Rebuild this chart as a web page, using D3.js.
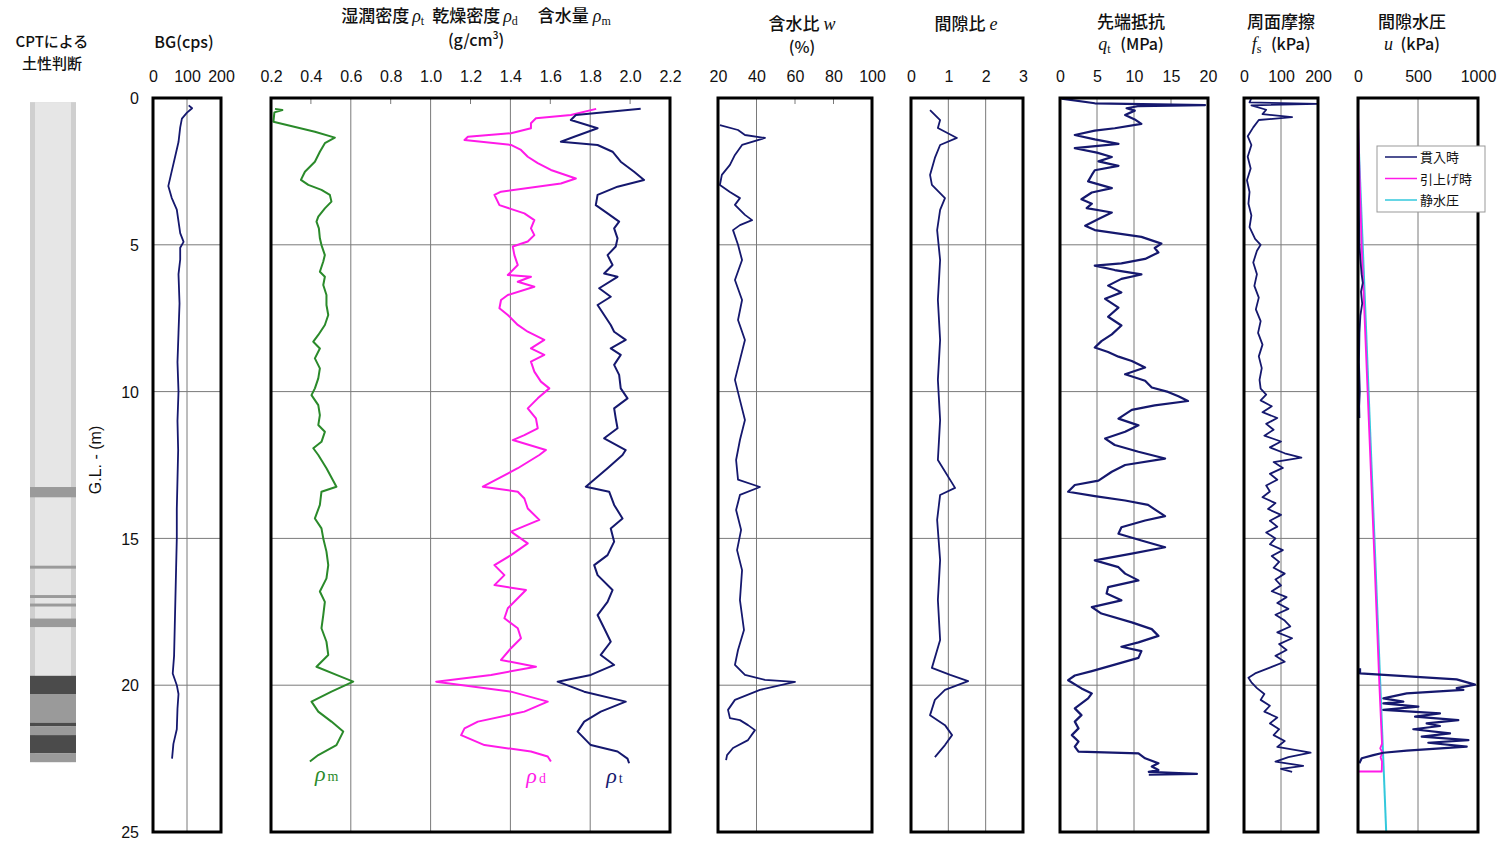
<!DOCTYPE html>
<html>
<head>
<meta charset="utf-8">
<script src="https://cdn.jsdelivr.net/npm/d3@7"></script>
<style>
  body { margin: 0; background: #fff; }
  svg { display: block; }
  .tick text { font-family: "Liberation Sans", Arial, sans-serif; }
</style>
</head>
<body>
<svg id="chart" width="1499" height="842"></svg>
<script>
// ---- depth profile data: [depth (m), value] ----
const bgCps = [[0.25,105],[0.35,115],[0.5,100],[0.7,85],[1.0,80],[1.5,75],[2.0,65],[2.5,55],[3.0,45],[3.4,55],[3.8,70],[4.2,75],[4.6,80],[4.9,90],[5.1,80],[5.5,80],[6.0,75],[7.0,78],[8.0,75],[9.0,72],[10.0,75],[11.0,72],[12.0,74],[13.0,72],[14.0,70],[15.0,70],[16.0,68],[17.0,66],[18.0,64],[19.0,62],[19.6,58],[20.0,70],[20.3,75],[20.8,72],[21.5,70],[22.0,60],[22.5,56]];

const rhoM = [[0.37,0.22],[0.41,0.257],[0.49,0.217],[0.81,0.212],[1.15,0.42],[1.35,0.52],[1.54,0.47],[1.83,0.445],[2.17,0.42],[2.51,0.37],[2.79,0.35],[2.96,0.387],[3.13,0.453],[3.3,0.495],[3.53,0.503],[3.76,0.47],[4.04,0.437],[4.21,0.428],[4.44,0.44],[4.78,0.445],[5.01,0.453],[5.35,0.47],[5.57,0.462],[5.92,0.445],[6.09,0.47],[6.37,0.462],[6.71,0.478],[7.05,0.478],[7.39,0.487],[7.73,0.47],[8.07,0.437],[8.3,0.412],[8.53,0.445],[8.87,0.42],[9.21,0.445],[9.55,0.437],[9.89,0.42],[10.12,0.403],[10.46,0.437],[10.8,0.445],[11.14,0.437],[11.37,0.47],[11.71,0.453],[11.93,0.412],[12.16,0.437],[12.61,0.478],[13.24,0.528],[13.41,0.453],[13.86,0.445],[14.32,0.42],[14.66,0.453],[15.0,0.462],[15.45,0.478],[15.91,0.487],[16.36,0.478],[16.81,0.445],[17.16,0.47],[17.61,0.462],[18.06,0.453],[18.52,0.478],[18.97,0.487],[19.37,0.428],[19.65,0.528],[19.88,0.612],[20.22,0.503],[20.56,0.403],[20.9,0.437],[21.24,0.503],[21.58,0.562],[22.04,0.528],[22.38,0.437],[22.6,0.395]];

const rhoD = [[0.37,1.83],[0.58,1.703],[0.69,1.528],[0.86,1.503],[1.03,1.503],[1.2,1.403],[1.32,1.187],[1.43,1.17],[1.6,1.403],[1.77,1.453],[2.0,1.487],[2.22,1.537],[2.45,1.603],[2.74,1.728],[2.91,1.653],[3.19,1.353],[3.3,1.32],[3.65,1.345],[3.93,1.47],[4.16,1.52],[4.44,1.503],[4.67,1.52],[4.89,1.487],[5.06,1.412],[5.35,1.42],[5.69,1.437],[6.03,1.387],[6.09,1.503],[6.26,1.437],[6.43,1.52],[6.71,1.387],[6.88,1.353],[7.16,1.345],[7.39,1.387],[7.73,1.437],[7.96,1.487],[8.24,1.57],[8.53,1.503],[8.75,1.57],[8.98,1.503],[9.32,1.52],[9.66,1.553],[9.89,1.595],[10.23,1.537],[10.57,1.487],[10.91,1.528],[11.25,1.537],[11.48,1.47],[11.65,1.412],[11.99,1.578],[12.16,1.545],[12.61,1.437],[13.24,1.262],[13.41,1.437],[13.64,1.47],[13.98,1.487],[14.37,1.545],[14.77,1.403],[15.17,1.487],[15.57,1.403],[15.91,1.32],[16.25,1.37],[16.59,1.32],[16.76,1.478],[17.04,1.437],[17.38,1.387],[17.72,1.37],[18.06,1.437],[18.4,1.453],[18.74,1.403],[19.14,1.353],[19.37,1.528],[19.65,1.303],[19.88,1.028],[20.22,1.403],[20.56,1.587],[20.9,1.47],[21.24,1.237],[21.47,1.17],[21.7,1.153],[22.04,1.27],[22.26,1.503],[22.43,1.587],[22.6,1.603]];

const rhoT = [[0.37,2.053],[0.58,1.728],[0.75,1.703],[1.03,1.837],[1.32,1.72],[1.49,1.653],[1.6,1.837],[1.83,1.912],[2.17,1.953],[2.51,2.02],[2.79,2.07],[3.02,1.937],[3.3,1.837],[3.65,1.828],[3.93,1.887],[4.21,1.945],[4.44,1.92],[4.78,1.937],[5.06,1.928],[5.35,1.887],[5.69,1.912],[5.98,1.87],[6.09,1.937],[6.48,1.845],[6.77,1.903],[7.05,1.837],[7.39,1.87],[7.73,1.903],[7.96,1.92],[8.24,1.978],[8.53,1.903],[8.75,1.953],[9.09,1.92],[9.43,1.945],[9.89,1.953],[10.23,1.987],[10.57,1.92],[10.91,1.928],[11.25,1.937],[11.59,1.87],[11.99,1.978],[12.16,1.962],[12.61,1.887],[13.24,1.778],[13.41,1.895],[13.86,1.92],[14.32,1.962],[14.66,1.903],[15.11,1.92],[15.57,1.887],[15.91,1.82],[16.25,1.837],[16.76,1.912],[17.16,1.887],[17.61,1.837],[18.06,1.87],[18.52,1.903],[18.97,1.853],[19.31,1.92],[19.65,1.803],[19.88,1.637],[20.22,1.77],[20.56,1.978],[20.9,1.853],[21.24,1.77],[21.58,1.737],[22.04,1.803],[22.26,1.937],[22.5,1.987],[22.66,1.995]];

const waterContent = [[0.92,21],[1.09,30.4],[1.26,34],[1.36,44.4],[1.6,32.5],[1.94,28.8],[2.28,26.2],[2.62,22],[2.96,21],[3.2,26.2],[3.41,31.4],[3.64,28.8],[3.98,34],[4.16,37.7],[4.33,31.4],[4.5,27.8],[5.0,30.4],[5.52,32.5],[6.2,28.8],[6.88,32.5],[7.56,30.4],[8.24,34],[8.92,31.4],[9.6,28.8],[10.29,31.4],[10.97,34],[11.65,31.4],[12.33,29.4],[13.0,30.4],[13.25,41.8],[13.52,31.4],[14.03,29.4],[14.71,32],[15.4,29.9],[16.08,32.5],[17.1,31.4],[18.12,33.5],[18.8,30.4],[19.31,28.8],[19.65,34],[19.82,44.4],[19.89,60],[20.16,41.8],[20.5,28.8],[20.84,25.2],[21.12,26.2],[21.19,31.4],[21.36,35.6],[21.53,39.2],[21.87,35.6],[22.14,27.8],[22.38,24.7],[22.55,24.2]];

const voidRatio = [[0.41,0.51],[0.75,0.78],[1.02,0.72],[1.36,1.23],[1.6,0.78],[2.04,0.64],[2.62,0.51],[2.96,0.56],[3.41,0.91],[3.81,0.78],[4.5,0.7],[5.52,0.78],[6.88,0.72],[8.24,0.78],[9.6,0.72],[10.97,0.78],[12.33,0.72],[13.28,1.18],[13.52,0.78],[14.37,0.7],[15.74,0.78],[17.1,0.72],[18.46,0.78],[19.41,0.56],[19.65,1.05],[19.86,1.53],[20.16,0.91],[20.5,0.64],[21.02,0.51],[21.36,0.91],[21.7,1.1],[22.04,0.91],[22.45,0.64]];

const qtMPa = [[0.02,0.2],[0.18,4.7],[0.24,19.6],[0.28,10.5],[0.35,9.0],[0.43,10.1],[0.58,8.8],[0.73,10.1],[0.88,11.0],[1.03,7.4],[1.11,4.7],[1.26,2.0],[1.41,4.7],[1.56,7.9],[1.71,2.0],[1.86,5.0],[2.01,7.0],[2.16,5.2],[2.31,7.9],[2.46,4.7],[2.62,4.3],[2.84,3.8],[3.07,7.0],[3.22,4.3],[3.45,2.9],[3.6,4.3],[3.75,3.6],[3.9,7.0],[4.12,5.2],[4.35,3.4],[4.5,4.7],[4.73,11.0],[4.96,13.7],[5.11,12.8],[5.26,13.3],[5.48,11.5],[5.63,8.3],[5.71,4.7],[5.86,7.4],[6.01,11.0],[6.16,8.3],[6.39,6.5],[6.62,8.3],[6.84,6.1],[7.14,7.9],[7.45,6.5],[7.75,8.3],[8.05,7.0],[8.28,5.6],[8.5,4.7],[8.65,6.5],[8.81,7.9],[8.96,9.7],[9.18,11.5],[9.41,8.8],[9.63,11.5],[9.86,12.4],[10.01,14.6],[10.16,16.0],[10.32,17.3],[10.47,12.8],[10.62,9.7],[10.92,7.9],[11.15,10.6],[11.37,8.8],[11.6,6.1],[11.82,7.4],[12.05,10.6],[12.28,14.2],[12.5,8.8],[12.73,7.0],[13.03,5.2],[13.18,2.0],[13.41,1.1],[13.56,4.7],[13.71,8.8],[13.86,11.9],[14.01,12.8],[14.24,14.2],[14.39,11.5],[14.62,8.3],[14.84,7.9],[15.07,11.0],[15.3,14.2],[15.52,9.7],[15.75,4.7],[15.98,7.9],[16.2,8.8],[16.43,10.6],[16.66,6.5],[16.88,6.3],[17.11,8.3],[17.34,4.3],[17.56,5.6],[17.86,9.7],[18.09,12.4],[18.32,13.3],[18.54,10.6],[18.69,8.3],[18.84,11.0],[19.07,10.6],[19.3,7.4],[19.52,4.3],[19.67,2.0],[19.83,1.1],[20.11,2.9],[20.28,4.3],[20.45,3.8],[20.62,2.9],[20.79,2.0],[21.02,2.9],[21.24,2.0],[21.47,2.5],[21.7,1.6],[21.92,2.5],[22.09,2.0],[22.26,2.5],[22.32,10.6],[22.49,11.5],[22.66,13.3],[22.77,12.4],[22.89,13.3],[22.95,12.0],[23.02,18.5],[23.05,12.0]];

const fsKPa = [[0.0,20],[0.15,15],[0.2,200],[0.25,20],[0.4,60],[0.55,50],[0.65,130],[0.75,40],[1.0,25],[1.3,10],[1.6,20],[2.0,10],[2.4,18],[2.8,8],[3.2,15],[3.6,12],[4.0,20],[4.4,15],[4.8,30],[5.0,45],[5.2,35],[5.6,25],[6.0,35],[6.4,28],[6.8,40],[7.2,32],[7.6,45],[8.0,38],[8.4,50],[8.8,40],[9.2,48],[9.6,42],[9.9,45],[10.1,60],[10.3,45],[10.5,75],[10.7,50],[10.9,90],[11.1,60],[11.3,80],[11.5,55],[11.7,100],[11.9,70],[12.1,110],[12.25,155],[12.4,80],[12.6,105],[12.8,70],[13.0,90],[13.2,60],[13.4,70],[13.6,50],[13.8,85],[14.0,65],[14.2,100],[14.4,70],[14.6,90],[14.8,60],[15.0,85],[15.2,70],[15.4,105],[15.6,75],[15.8,95],[16.0,80],[16.2,110],[16.4,85],[16.6,100],[16.8,75],[17.0,115],[17.2,90],[17.4,120],[17.6,85],[17.8,110],[18.0,125],[18.2,90],[18.4,130],[18.6,95],[18.8,115],[19.0,85],[19.2,110],[19.4,70],[19.6,30],[19.75,12],[19.9,20],[20.1,35],[20.3,55],[20.5,45],[20.7,70],[20.9,55],[21.1,90],[21.3,70],[21.5,95],[21.7,80],[21.9,110],[22.1,90],[22.3,180],[22.45,120],[22.6,85],[22.75,160],[22.85,100],[22.95,130]];

// pore pressure while pushing: two recorded sections
const uPushUpper = [[0.0,2],[1.0,0],[2.0,3],[3.0,5],[4.0,8],[5.0,12],[5.5,20],[6.0,30],[6.3,40],[6.6,25],[7.0,35],[7.4,20],[8.0,12],[9.0,8],[10.0,15],[10.5,10],[10.9,12]];
const uPushLower = [[19.42,17],[19.6,17],[19.8,822],[19.98,975],[20.1,822],[20.16,878],[20.28,406],[20.45,211],[20.56,378],[20.62,211],[20.73,503],[20.84,211],[20.96,683],[21.07,475],[21.19,836],[21.3,572],[21.39,683],[21.5,461],[21.64,767],[21.75,531],[21.87,920],[21.96,586],[22.09,906],[22.23,406],[22.3,211],[22.38,128],[22.49,31],[22.66,11]];
const uPull = [[0.3,0],[1.5,5],[5,30],[10,80],[15,130],[20,178],[22.0,200],[22.15,185],[22.3,205],[22.45,188],[22.6,200],[22.94,198],[22.94,0]];
const uHydro = [[1.0,0],[25,235]];

// soil classification column (top, bottom, class)
const cptLayers = [[13.25,13.6,"mid"],[15.93,16.03,"mid"],[16.93,17.03,"mid"],[17.22,17.32,"mid"],[17.73,18.02,"mid"],[19.68,20.3,"dark"],[20.3,21.28,"mid"],[21.28,21.4,"dark"],[21.4,21.7,"mid"],[21.7,22.32,"dark"],[22.32,22.62,"mid"]];
const cptRange = [0.14, 22.62];

const depthTicks = [0,5,10,15,20,25];

// ---- layout ----
const svg = d3.select("#chart");
const y = d3.scaleLinear().domain([0,25]).range([98,832]);
const NAVY = "#15186e", GREEN = "#2a8a2a", MAGENTA = "#ff1ae8", CYAN = "#33c8dc";
const cjk = '"Noto Sans CJK JP", "Noto Sans", sans-serif';
const serif = '"Liberation Serif", "DejaVu Serif", serif';

const panels = {
  bg:  {x0:153,  x1:221,  domain:[0,200],  ticks:[0,100,200], grid:[100], minor:[], fmt:d3.format("d")},
  rho: {x0:271,  x1:670,  domain:[0.2,2.2], ticks:d3.range(0.2,2.21,0.2), grid:[0.6,1.0,1.4,1.8], minor:[0.4,0.8,1.2,1.6,2.0], fmt:d3.format(".1f")},
  w:   {x0:718,  x1:872,  domain:[20,100], ticks:[20,40,60,80,100], grid:[40], minor:[60,80], fmt:d3.format("d")},
  e:   {x0:911,  x1:1023, domain:[0,3],    ticks:[0,1,2,3], grid:[1,2], minor:[], fmt:d3.format("d")},
  qt:  {x0:1060, x1:1208, domain:[0,20],   ticks:[0,5,10,15,20], grid:[5,10], minor:[15], fmt:d3.format("d")},
  fs:  {x0:1244, x1:1318, domain:[0,200],  ticks:[0,100,200], grid:[100], minor:[], fmt:d3.format("d")},
  u:   {x0:1358, x1:1478, domain:[0,1000], ticks:[0,500,1000], grid:[500], minor:[], fmt:d3.format("d")}
};
Object.values(panels).forEach(p => { p.x = d3.scaleLinear().domain(p.domain).range([p.x0,p.x1]); });

// depth axis
const yAxis = svg.append("g").attr("transform","translate(139,0)")
  .call(d3.axisLeft(y).tickValues(depthTicks).tickSize(0).tickPadding(0));
yAxis.select(".domain").remove();
yAxis.selectAll("text").attr("font-size",16).attr("dy","0.35em").attr("fill","#111");

svg.append("text").attr("transform","translate(101,460) rotate(-90)")
  .attr("text-anchor","middle").attr("font-family",'"Liberation Sans", Arial, sans-serif')
  .attr("font-size",16).attr("fill","#111").text("G.L. - (m)");

// panel frames, grids and top axes
Object.values(panels).forEach(p => {
  const g = svg.append("g");
  g.selectAll("line.hg").data([5,10,15,20]).join("line")
    .attr("x1",p.x0).attr("x2",p.x1).attr("y1",d=>y(d)).attr("y2",d=>y(d))
    .attr("stroke","#7a7a7a").attr("stroke-width",1);
  g.selectAll("line.vg").data(p.grid).join("line")
    .attr("x1",d=>p.x(d)).attr("x2",d=>p.x(d)).attr("y1",y(0)).attr("y2",y(25))
    .attr("stroke","#7a7a7a").attr("stroke-width",1);
  g.selectAll("line.mt").data(p.minor).join("line")
    .attr("x1",d=>p.x(d)).attr("x2",d=>p.x(d)).attr("y1",y(0)).attr("y2",y(0)+6)
    .attr("stroke","#7a7a7a").attr("stroke-width",1);
  const ax = svg.append("g").attr("transform","translate(0,82)")
    .call(d3.axisTop(p.x).tickValues(p.ticks).tickFormat(p.fmt).tickSize(0).tickPadding(0));
  ax.select(".domain").remove();
  ax.selectAll("text").attr("font-size",16).attr("fill","#111").attr("dy","0");
});

// data lines
const line = p => d3.line().x(d=>p.x(d[1])).y(d=>y(d[0]));
function drawLine(p, data, color, w){
  svg.append("path").datum(data).attr("d",line(p)).attr("fill","none")
    .attr("stroke",color).attr("stroke-width",w||2).attr("stroke-linejoin","round");
}
drawLine(panels.bg, bgCps, NAVY, 1.8);
drawLine(panels.rho, rhoM, GREEN, 2);
drawLine(panels.rho, rhoD, MAGENTA, 2);
drawLine(panels.rho, rhoT, NAVY, 2);
drawLine(panels.w, waterContent, NAVY, 1.8);
drawLine(panels.e, voidRatio, NAVY, 1.8);
drawLine(panels.qt, qtMPa, NAVY, 2.2);
drawLine(panels.fs, fsKPa, NAVY, 1.8);
drawLine(panels.u, uHydro, CYAN, 2);
drawLine(panels.u, uPull, MAGENTA, 1.8);
drawLine(panels.u, uPushUpper, NAVY, 1.8);
drawLine(panels.u, uPushLower, NAVY, 2.2);

// frames on top
Object.values(panels).forEach(p => {
  svg.append("rect").attr("x",p.x0).attr("y",y(0)).attr("width",p.x1-p.x0).attr("height",y(25)-y(0))
    .attr("fill","none").attr("stroke","#000").attr("stroke-width",3);
});

// density curve labels
function rhoLabel(x, yy, sub, color){
  const t = svg.append("text").attr("x",x).attr("y",yy).attr("fill",color);
  t.append("tspan").attr("font-family",serif).attr("font-style","italic").attr("font-size",22).text("ρ");
  t.append("tspan").attr("font-family",serif).attr("font-size",14).attr("dx",2).text(sub);
}
rhoLabel(panels.rho.x(0.42), y(23.0)+8, "m", GREEN);
rhoLabel(panels.rho.x(1.48), y(23.0)+10, "d", MAGENTA);
rhoLabel(panels.rho.x(1.88), y(23.0)+10, "t", NAVY);

// titles
function title(x, yy, parts, size){
  const t = svg.append("text").attr("x",x).attr("y",yy).attr("text-anchor","middle")
    .attr("font-size",size||17).attr("fill","#111").attr("font-family",cjk).attr("font-weight",500);
  parts.forEach(pt => {
    const s = t.append("tspan").text(pt.t);
    if (pt.it) s.attr("font-family",serif).attr("font-style","italic").attr("font-weight",400).attr("font-size",pt.fs||18);
    if (pt.sub) s.attr("font-family",serif).attr("font-weight",400).attr("font-size",12).attr("dy",3);
    if (pt.up) s.attr("dy",pt.up);
    if (pt.dx) s.attr("dx",pt.dx);
    if (pt.sup) s.attr("font-size",10).attr("dy",-7);
  });
  return t;
}
title(52, 47, [{t:"CPTによる"}], 15);
title(52, 69, [{t:"土性判断"}], 15);
title(184, 48, [{t:"BG(cps)"}], 16);
title(476, 22, [{t:"湿潤密度"},{t:"ρ",it:1,dx:3},{t:"t",sub:1},{t:"乾燥密度",up:-3,dx:8},{t:"ρ",it:1,dx:3},{t:"d",sub:1},{t:"含水量",up:-3,dx:20},{t:"ρ",it:1,dx:4},{t:"m",sub:1}]);
title(476, 46, [{t:"(g/cm"},{t:"3",sup:1},{t:")",up:7}], 16);
title(802, 30, [{t:"含水比 "},{t:"w",it:1}]);
title(802, 53, [{t:"(%)"}], 16);
title(966, 30, [{t:"間隙比  "},{t:"e",it:1}]);
title(1131, 28, [{t:"先端抵抗"}]);
title(1131, 50, [{t:"q",it:1},{t:"t",sub:1},{t:" (MPa)",up:-3,dx:6}], 16);
title(1281, 28, [{t:"周面摩擦"}]);
title(1281, 50, [{t:"f",it:1},{t:"s",sub:1},{t:" (kPa)",up:-3,dx:6}], 16);
title(1412, 28, [{t:"間隙水圧"}]);
title(1412, 50, [{t:"u",it:1},{t:" (kPa)",dx:4}], 16);

// soil classification column
const cx0 = 30, cx1 = 76;
svg.append("rect").attr("x",cx0).attr("y",y(cptRange[0])).attr("width",cx1-cx0)
  .attr("height",y(cptRange[1])-y(cptRange[0])).attr("fill","#cfcfcf");
svg.append("rect").attr("x",cx0+5).attr("y",y(cptRange[0])).attr("width",cx1-cx0-10)
  .attr("height",y(cptRange[1])-y(cptRange[0])).attr("fill","#e6e6e6");
const shade = {mid:"#9a9a9a", dark:"#4b4b4b"};
svg.selectAll("rect.layer").data(cptLayers).join("rect")
  .attr("x",cx0).attr("width",cx1-cx0)
  .attr("y",d=>y(d[0])).attr("height",d=>y(d[1])-y(d[0]))
  .attr("fill",d=>shade[d[2]]);

// legend
const lg = svg.append("g").attr("transform","translate(1377,146)");
lg.append("rect").attr("width",108).attr("height",66).attr("fill","#fff").attr("stroke","#999").attr("stroke-width",1);
const legendItems = [["貫入時",NAVY],["引上げ時",MAGENTA],["静水圧",CYAN]];
legendItems.forEach((it,i) => {
  lg.append("line").attr("x1",8).attr("x2",40).attr("y1",11+i*21.5).attr("y2",11+i*21.5)
    .attr("stroke",it[1]).attr("stroke-width",1.5);
  lg.append("text").attr("x",43).attr("y",16+i*21.5).attr("font-family",cjk).attr("font-size",13)
    .attr("fill","#111").text(it[0]);
});
</script>
</body>
</html>
